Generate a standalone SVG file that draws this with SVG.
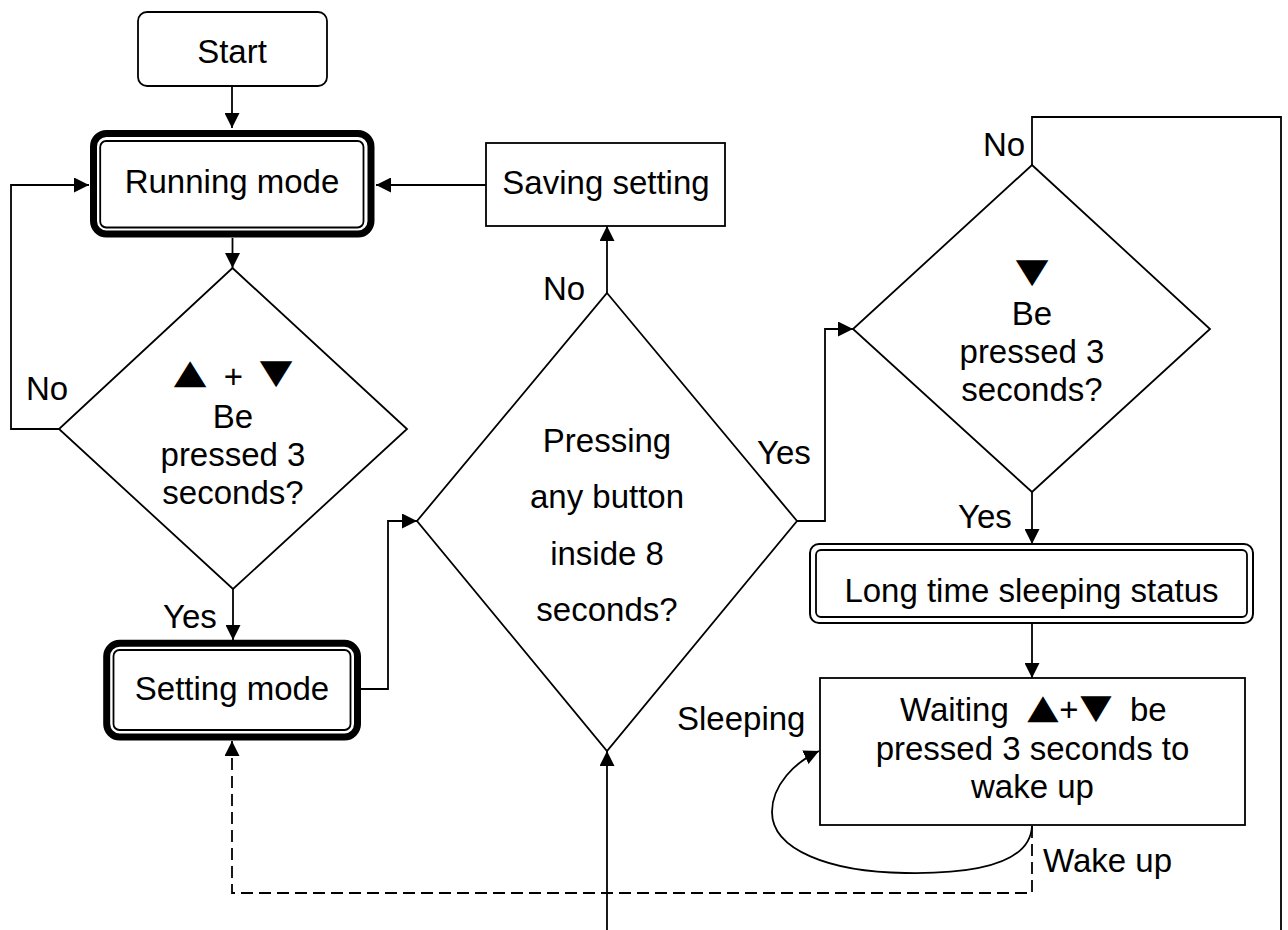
<svg xmlns="http://www.w3.org/2000/svg" width="1288" height="930" viewBox="0 0 1288 930">
<defs>
<style>
text{font-family:"Liberation Sans",Arial,Helvetica,sans-serif;font-size:33px;fill:#000}
.c{text-anchor:middle}
.tri{font-family:"DejaVu Sans",sans-serif;font-size:34px;text-anchor:middle}
.box{fill:#fff;stroke:#000;stroke-width:1.8}
.thick{fill:#fff;stroke:#000;stroke-width:7}
.thin{fill:none;stroke:#000;stroke-width:1.8}
.dbl{fill:#fff;stroke:#000;stroke-width:2}
.ln{fill:none;stroke:#000;stroke-width:1.8}
.dash{fill:none;stroke:#000;stroke-width:1.8;stroke-dasharray:12 6}
</style>
<marker id="ah" markerUnits="userSpaceOnUse" markerWidth="16" markerHeight="15" refX="15" refY="7.5" orient="auto">
<path d="M0,0 L15,7.5 L0,15 z" fill="#000"/>
</marker>
</defs>
<rect width="1288" height="930" fill="#fff"/>

<g id="connectors">
<path class="ln" d="M232,86 V128" marker-end="url(#ah)"/>
<path class="ln" d="M232.5,238 V268" marker-end="url(#ah)"/>
<path class="ln" d="M486,185 H376" marker-end="url(#ah)"/>
<path class="ln" d="M59,429 H11 V185 H89" marker-end="url(#ah)"/>
<path class="ln" d="M233,589 V640" marker-end="url(#ah)"/>
<path class="ln" d="M361,689 H388 V521 H417" marker-end="url(#ah)"/>
<path class="ln" d="M607,293 V226" marker-end="url(#ah)"/>
<path class="ln" d="M797,521 H825 V329 H853" marker-end="url(#ah)"/>
<path class="ln" d="M1032,165 V117 H1281 V930"/>
<path class="ln" d="M607,930 V751" marker-end="url(#ah)"/>
<path class="ln" d="M1032,492 V544" marker-end="url(#ah)"/>
<path class="ln" d="M1032,623 V678" marker-end="url(#ah)"/>
<path class="ln" d="M1032,826 C1030,868 960,874 905,873 C830,872 772,850 772,812 C772,785 795,762 819,751" marker-end="url(#ah)"/>
<path class="dash" d="M1032,826 V893 H232 V741" marker-end="url(#ah)"/>
<text x="26" y="400">No</text>
<text x="163" y="628">Yes</text>
<text x="543" y="300">No</text>
<text x="757" y="464">Yes</text>
<text x="983" y="156">No</text>
<text x="958" y="528">Yes</text>
<text x="677" y="730">Sleeping</text>
<text x="1043" y="872">Wake up</text>
</g>

<g id="start">
<rect class="box" x="138" y="12" width="189" height="74" rx="9"/>
<text class="c" x="232" y="63">Start</text>
</g>

<g id="running">
<rect class="thick" x="93.5" y="133.5" width="277.5" height="100.5" rx="13"/>
<rect class="thin" x="100.2" y="141" width="263.3" height="86.5" rx="6"/>
<text class="c" x="232" y="193">Running mode</text>
</g>

<g id="saving">
<rect class="box" x="486" y="143" width="239" height="83"/>
<text class="c" x="606" y="194">Saving setting</text>
</g>

<g id="decision1">
<path class="box" d="M232.5,268 L407,429 L233,589 L59,429 Z"/>
<text class="tri" transform="translate(190,383) scale(1.25,1)">▲</text>
<text class="c" x="233.5" y="388">+</text>
<text class="tri" transform="translate(276,383) scale(1.25,1)">▼</text>
<text class="c" x="233" y="428">Be</text>
<text class="c" x="233" y="466">pressed 3</text>
<text class="c" x="233" y="504">seconds?</text>
</g>

<g id="setting">
<rect class="thick" x="106.7" y="643.3" width="250.8" height="93.7" rx="13"/>
<rect class="thin" x="113.5" y="650" width="237" height="80" rx="6"/>
<text class="c" x="232" y="700">Setting mode</text>
</g>

<g id="decision2">
<path class="box" d="M607,293 L797,521 L607,751 L417,521 Z"/>
<text class="c" x="607" y="452">Pressing</text>
<text class="c" x="607" y="508">any button</text>
<text class="c" x="607" y="565">inside 8</text>
<text class="c" x="607" y="621">seconds?</text>
</g>

<g id="decision3">
<path class="box" d="M1032,165 L1210,329 L1032,492 L853,329 Z"/>
<text class="tri" transform="translate(1032,282) scale(1.25,1)">▼</text>
<text class="c" x="1032" y="325">Be</text>
<text class="c" x="1032" y="363">pressed 3</text>
<text class="c" x="1032" y="401">seconds?</text>
</g>

<g id="longsleep">
<rect class="dbl" x="810" y="544" width="443" height="79" rx="9"/>
<rect class="thin" x="816" y="550" width="431" height="67" rx="5"/>
<text class="c" x="1031.5" y="602">Long time sleeping status</text>
</g>

<g id="waiting">
<rect class="box" x="820" y="678" width="425" height="147"/>
<text x="900" y="721">Waiting</text>
<text class="tri" transform="translate(1043,718) scale(1.2,1)">▲</text>
<text class="c" x="1069" y="721">+</text>
<text class="tri" transform="translate(1096,718) scale(1.2,1)">▼</text>
<text x="1130" y="721">be</text>
<text class="c" x="1032.5" y="760">pressed 3 seconds to</text>
<text class="c" x="1032.5" y="798">wake up</text>
</g>
</svg>
